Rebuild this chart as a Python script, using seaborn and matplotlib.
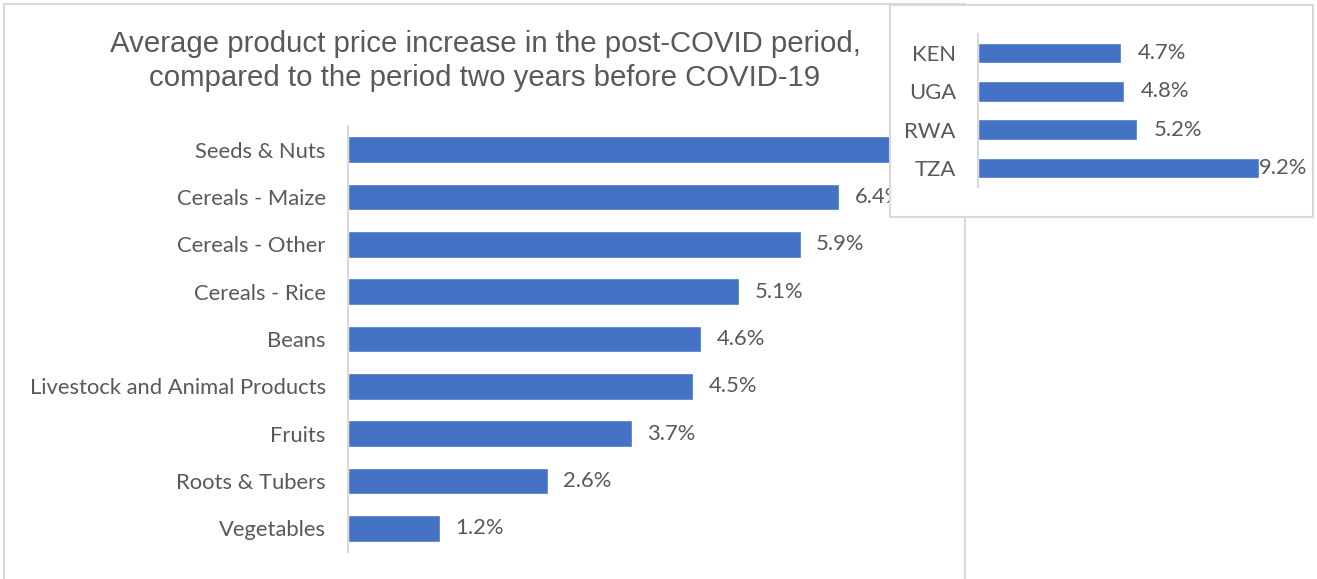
import matplotlib
matplotlib.use("Agg")
import matplotlib.pyplot as plt
import seaborn as sns
import pandas as pd
from matplotlib.patches import Rectangle

sns.set_theme(style="white")
plt.rcParams["font.family"] = ["Lato", "DejaVu Sans"]

# Product categories and their average price increase (%)
categories = ["Seeds & Nuts", "Cereals - Maize", "Cereals - Other", "Cereals - Rice",
              "Beans", "Livestock and Animal Products", "Fruits", "Roots & Tubers",
              "Vegetables"]
increase = [7.7, 6.4, 5.9, 5.1, 4.6, 4.5, 3.7, 2.6, 1.2]

# Country-level average increase (%)
countries = ["KEN", "UGA", "RWA", "TZA"]
country_increase = [4.7, 4.8, 5.2, 9.2]

title = ("Average product price increase in the post-COVID period,\n"
         "compared to the period two years before COVID-19")

BLUE = "#4472C4"
TEXT = "#595959"
GRID = "#D9D9D9"

W, H = 1317, 579
fig = plt.figure(figsize=(W / 100, H / 100), dpi=100)


def px_rect(x0, y0, x1, y1):
    """Axes rectangle from pixel coordinates (origin top-left)."""
    return [x0 / W, 1 - y1 / H, (x1 - x0) / W, (y1 - y0) / H]


# Outer frame of the main chart
fig.patches.append(Rectangle((4 / W, -0.05), (965 - 4) / W, 1.05 - 4 / H,
                             transform=fig.transFigure, fill=False,
                             edgecolor=GRID, linewidth=1.5, zorder=0))

fig.text(485 / W, 1 - 61 / H, title, ha="center", va="center",
         fontsize=21.2, color=TEXT, family=["Liberation Sans", "DejaVu Sans"],
         linespacing=1.25)

# Main bar chart
ax = fig.add_axes(px_rect(348, 126, 962, 552))
df = pd.DataFrame({"category": categories, "increase": increase})
sns.barplot(data=df, y="category", x="increase", color=BLUE, width=0.57,
            saturation=1, ax=ax, orient="h")
ax.set_xlim(0, 8)
ax.set_ylim(8.5, -0.5)
ax.set_xlabel("")
ax.set_ylabel("")
ax.set_xticks([])
for s in ["top", "right", "bottom"]:
    ax.spines[s].set_visible(False)
ax.spines["left"].set_color(GRID)
ax.spines["left"].set_linewidth(1.5)
ax.tick_params(axis="y", length=0, pad=16, labelsize=15.8, labelcolor=TEXT)
for i, v in enumerate(increase):
    ax.annotate(f"{v:.1f}%", (v, i), xytext=(11, 0), textcoords="offset points",
                va="center", ha="left", fontsize=15.8, color=TEXT)

# Inset box with the country breakdown
box = fig.add_axes(px_rect(890, 5, 1313, 217))
box.set_xticks([])
box.set_yticks([])
box.set_facecolor("white")
for s in box.spines.values():
    s.set_color(GRID)
    s.set_linewidth(1.5)
box.set_zorder(5)

ax2 = fig.add_axes(px_rect(978, 34, 1283, 187))
ax2.set_zorder(6)
ax2.patch.set_alpha(0)
dfc = pd.DataFrame({"country": countries, "increase": country_increase})
sns.barplot(data=dfc, y="country", x="increase", color=BLUE, width=0.54,
            saturation=1, ax=ax2, orient="h")
ax2.set_xlim(0, 10)
ax2.set_ylim(3.5, -0.5)
ax2.set_xlabel("")
ax2.set_ylabel("")
ax2.set_xticks([])
for s in ["top", "right", "bottom"]:
    ax2.spines[s].set_visible(False)
ax2.spines["left"].set_color(GRID)
ax2.spines["left"].set_linewidth(1.5)
ax2.tick_params(axis="y", length=0, pad=16, labelsize=15.8, labelcolor=TEXT)

fig.canvas.draw()
renderer = fig.canvas.get_renderer()
box_right = box.get_window_extent(renderer).x1 - 6
for i, v in enumerate(country_increase):
    t = ax2.annotate(f"{v:.1f}%", (v, i), xytext=(12, 0), textcoords="offset points",
                     va="center", ha="left", fontsize=15.8, color=TEXT)
    bb = t.get_window_extent(renderer)
    if bb.x1 > box_right:
        # keep the label inside the inset frame
        t.xyann = (12 - (bb.x1 - box_right) * 72 / 100, 0)

fig.savefig("out.png", dpi=100)
